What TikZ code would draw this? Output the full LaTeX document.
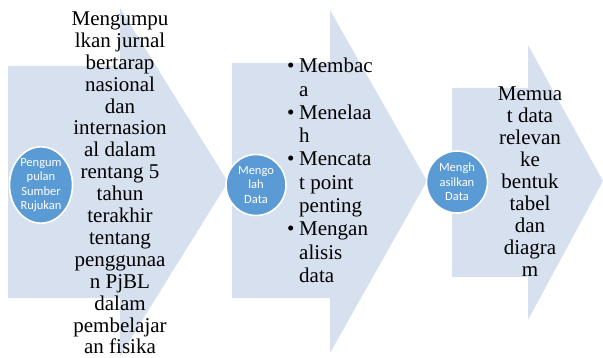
\documentclass[tikz,border=0pt]{standalone}
\usepackage{fontspec}
\setmainfont{Liberation Serif}
\newfontfamily\circfont{Carlito}
\usetikzlibrary{shapes.geometric}
\definecolor{arrowfill}{HTML}{D6E0EF}
\definecolor{circfill}{HTML}{5B9BD5}
\tikzset{
  chev/.style={fill=arrowfill, draw=none},
  circnode/.style={ellipse, fill=circfill, draw=white, line width=1.6pt, inner sep=0pt,
    text=white, align=center, font={\circfont\fontsize{12.5}{14.6}\selectfont}},
  bodytext/.style={inner sep=0pt, text=black, font={\fontsize{21}{23.3}\selectfont}},
  narrowtext/.style={inner sep=0pt, text=black, font={\fontsize{21}{21.9}\selectfont}}
}
\begin{document}
\begin{tikzpicture}[x=1pt,y=-1pt]
\useasboundingbox (0,0) rectangle (603,358);
% chevron arrows
\fill[chev] (8,66) -- (120,66) -- (120,8) -- (228,182) -- (120,356) -- (120,298) -- (8,298) -- cycle;
\fill[chev] (232,63) -- (330,63) -- (330,10) -- (427,181) -- (330,353) -- (330,298) -- (232,298) -- cycle;
\fill[chev] (452,88) -- (528,88) -- (528,45) -- (603,181) -- (528,320) -- (528,277) -- (452,277) -- cycle;
% circles
\node[circnode, minimum width=63pt, minimum height=69pt] (c1) at (41,185) {Pengum\\pulan\\Sumber\\Rujukan};
\node[circnode, minimum width=60pt, minimum height=61pt] (c2) at (256,185) {Mengo\\lah\\Data};
\node[circnode, minimum width=61pt, minimum height=62pt] (c3) at (457,182) {Mengh\\asilkan\\Data};
% texts
\node[narrowtext, anchor=north, align=center] (t1) at (120,11.5)
  {Mengumpu\\lkan jurnal\\bertarap\\nasional\\dan\\internasion\\al dalam\\rentang 5\\tahun\\terakhir\\tentang\\penggunaa\\n PjBL\\dalam\\pembelajar\\an fisika};
\node[bodytext, anchor=north west, align=left] (t2) at (287,58)
  {\makebox[12pt][l]{\textbullet}Membac\\
   \hspace*{12pt}a\\
   \makebox[12pt][l]{\textbullet}Menelaa\\
   \hspace*{12pt}h\\
   \makebox[12pt][l]{\textbullet}Mencata\\
   \hspace*{12pt}t point\\
   \hspace*{12pt}penting\\
   \makebox[12pt][l]{\textbullet}Mengan\\
   \hspace*{12pt}alisis\\
   \hspace*{12pt}data};
\node[narrowtext, anchor=north, align=center] (t3) at (530,87)
  {Memua\\t data\\relevan\\ke\\bentuk\\tabel\\dan\\diagra\\m};
\end{tikzpicture}
\end{document}
